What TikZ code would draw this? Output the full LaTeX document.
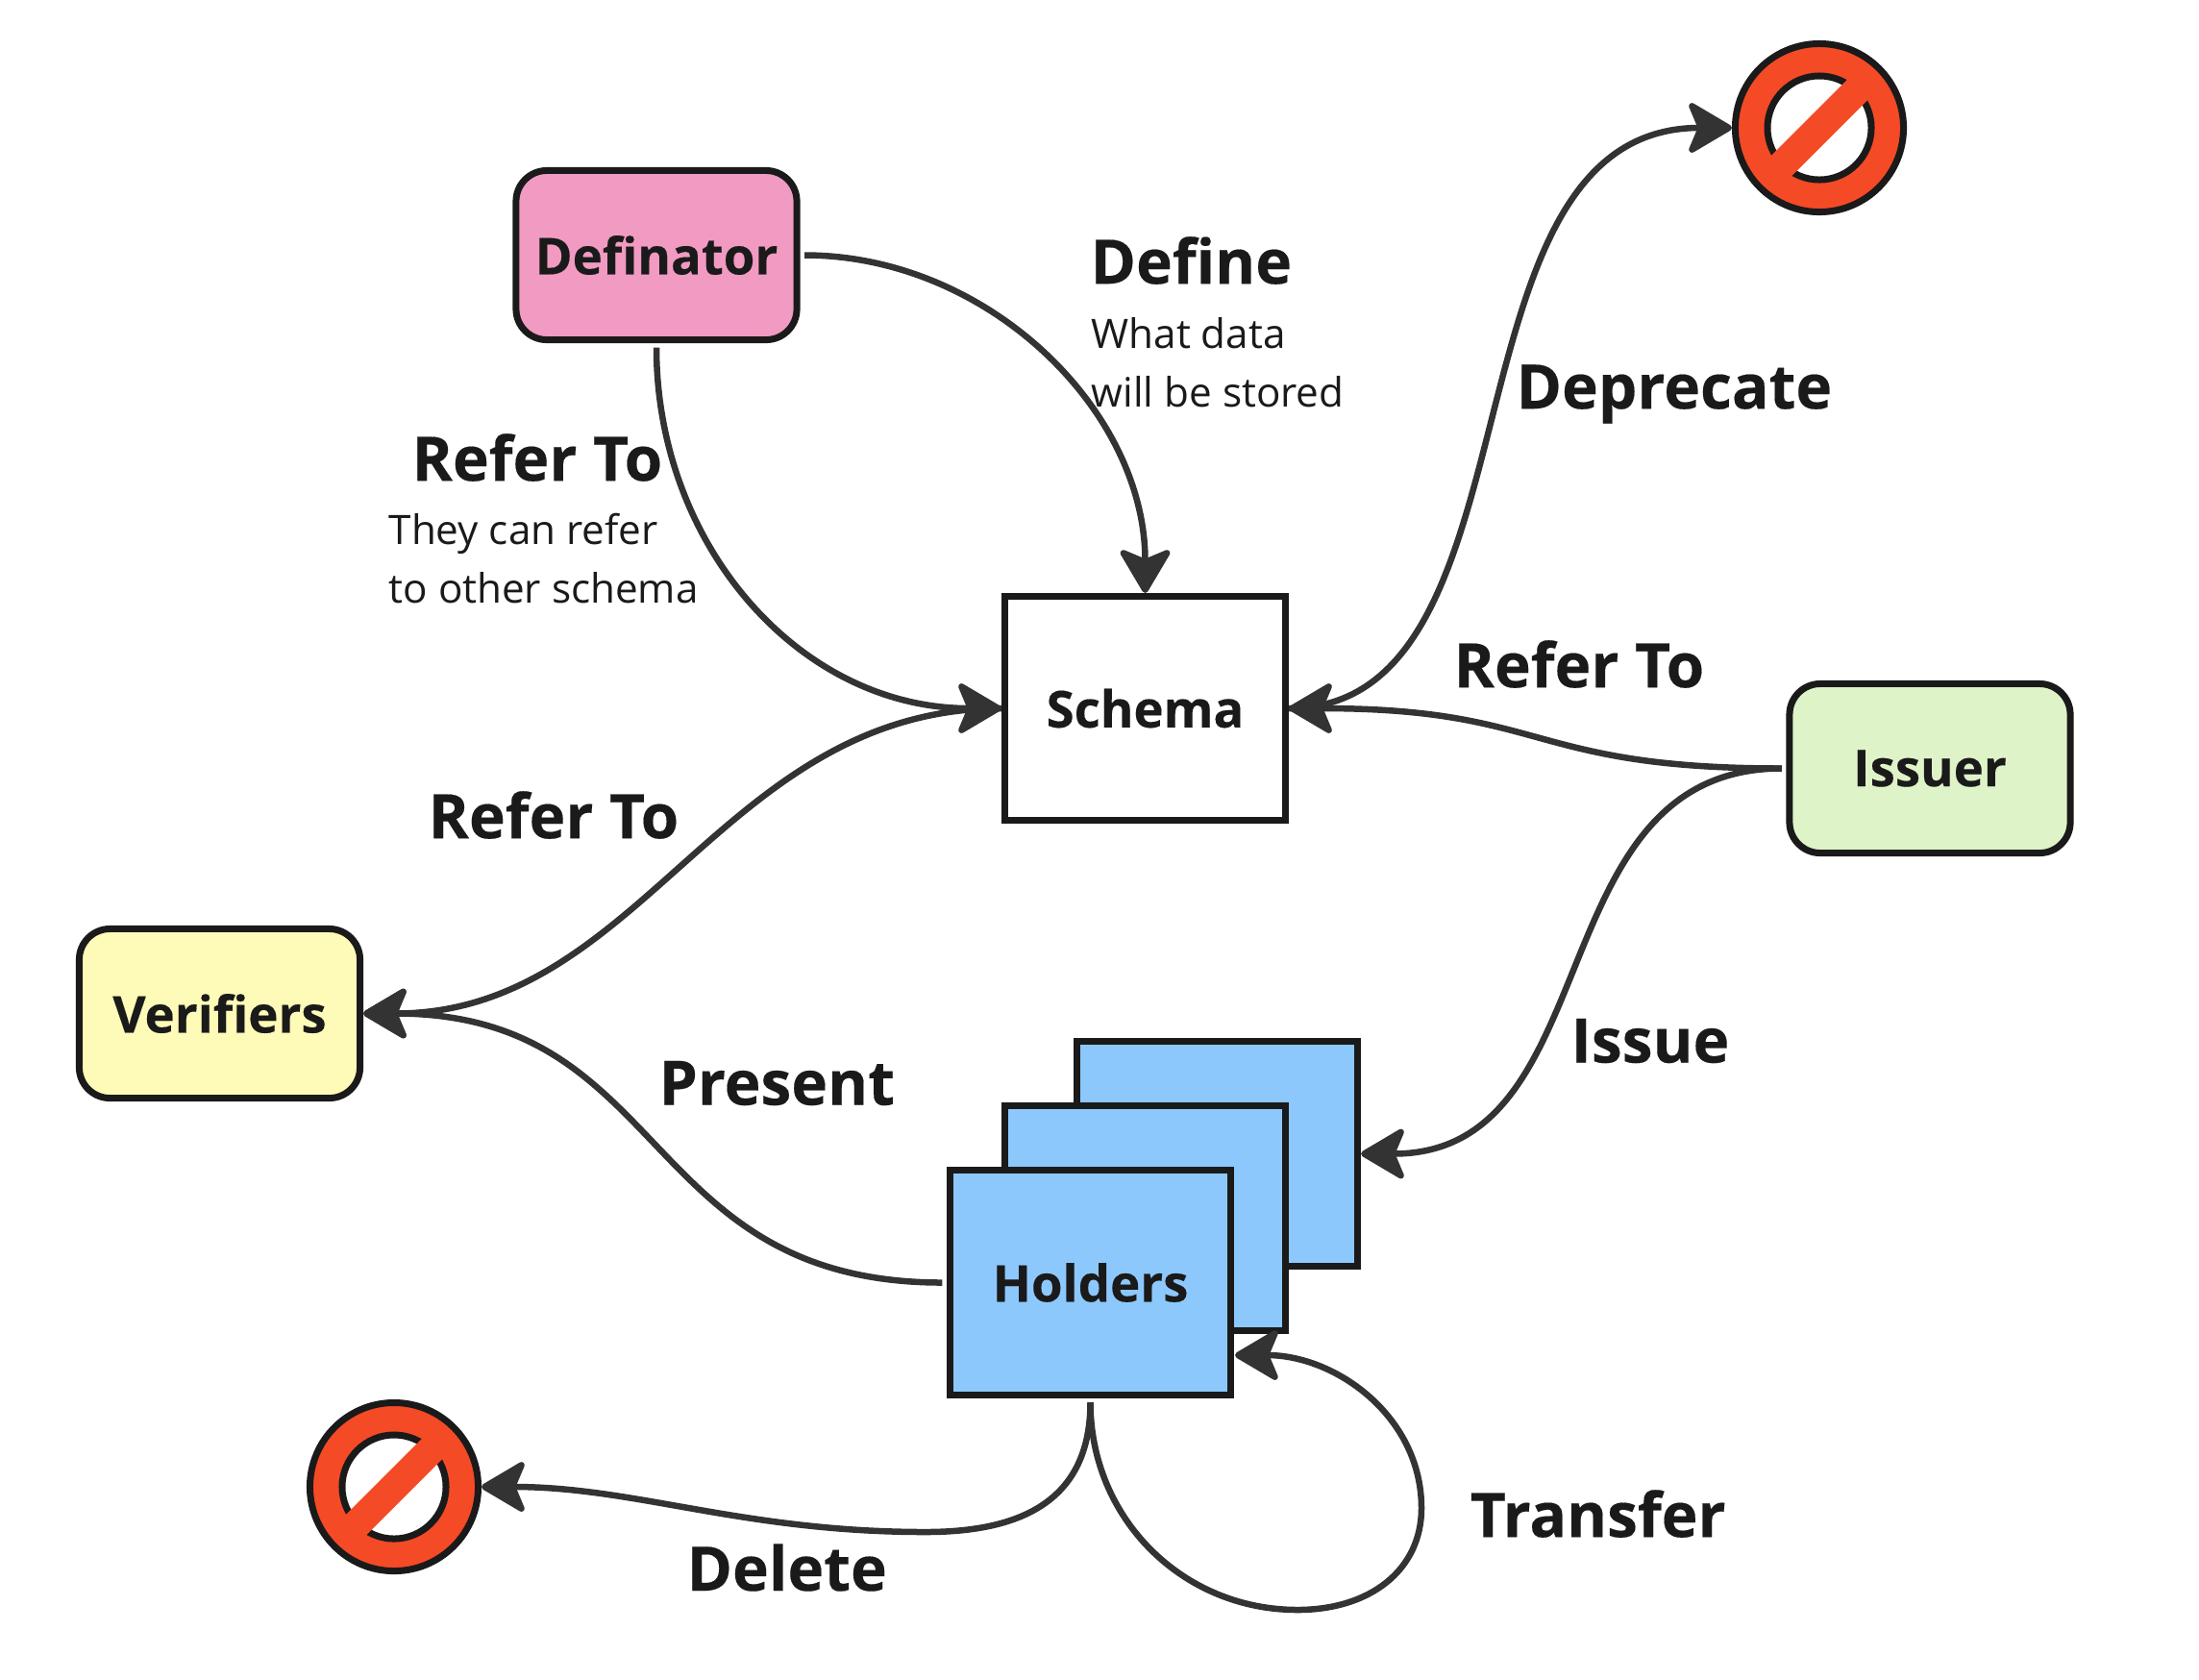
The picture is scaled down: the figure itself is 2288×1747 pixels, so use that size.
\documentclass[tikz,border=0pt]{standalone}
\usepackage{fontspec}
\setmainfont{Open Sans}[BoldFeatures={FakeBold=0.25}]
\usetikzlibrary{arrows.meta}
\definecolor{ink}{HTML}{1A1A1A}
\definecolor{wire}{HTML}{333333}
\definecolor{rose}{HTML}{F19AC2}
\definecolor{lime}{HTML}{DFF3C8}
\definecolor{butter}{HTML}{FEFAB8}
\definecolor{sky}{HTML}{8DC8FC}
\definecolor{stopred}{HTML}{F54A26}
\begin{document}
\begin{tikzpicture}[x=.01cm,y=-.01cm,
    box/.style={draw=ink,line width=.07cm,minimum width=2.92cm,minimum height=2.33cm,
      font=\fontsize{15}{17}\selectfont\bfseries,text=ink},
    actor/.style={box,rounded corners=.32cm,minimum height=1.76cm},
    big/.style={anchor=west,inner sep=0pt,text=ink,font=\fontsize{18.2}{22}\selectfont\bfseries},
    small/.style={anchor=west,inner sep=0pt,align=left,text=ink,font=\fontsize{12}{17.3}\selectfont},
    wired/.style={draw=wire,line width=.065cm,line cap=butt,shorten <=.045cm,
      -{Stealth[length=14.5pt,width=17pt,inset=3.5pt,round]}}]
  \useasboundingbox (0,0) rectangle (2288,1747);

  \node[actor,fill=rose] (definator) at (683,265.5) {Definator};
  \node[box,fill=white] (schema) at (1191.5,737) {Schema};
  \node[actor,fill=lime] (issuer) at (2008,799.5) {Issuer};
  \node[actor,fill=butter] (verifiers) at (228.5,1054.5) {Verifiers};

  \node[box,fill=sky] (holders3) at (1266.5,1200.5) {};
  \node[box,fill=sky] (holders2) at (1191.5,1267.5) {};
  \node[box,fill=sky] (holders) at (1134.5,1334.5) {Holders};
  \coordinate (holdersin) at (1285,1410);
  \coordinate (deletebend) at (963,1594);
  \coordinate (loopbottom) at (1350,1675);
  \coordinate (loopside) at (1479,1569);

  % the two stop signs
  \foreach \name/\x/\y in {deprecated/1893/133,deleted/410/1547}{
    \node[circle,draw=ink,fill=stopred,line width=.07cm,minimum size=1.75cm,inner sep=0pt,
      outer sep=.035cm] (\name) at (\x,\y) {};
    \node[circle,draw=ink,fill=white,line width=.07cm,minimum size=1.08cm,inner sep=0pt]
      at (\name) {};
    \draw[stopred,line width=.3cm] (\x-50,\y+50) -- (\x+50,\y-50);
  }

  \draw[wired] (definator.east) .. controls +(195,0) and +(0,-190) .. (schema.north);
  \draw[wired] (definator.south) .. controls +(0,210) and +(-210,0) .. (schema.west);
  \draw[wired,shorten <=0pt] (schema.west) .. controls +(-290,0) and +(290,0) .. (verifiers.east);
  \draw[wired] (issuer.west) .. controls +(-270,0) and +(270,0) .. (schema.east);
  \draw[wired,shorten <=0pt] (schema.east) .. controls +(270,0) and +(-310,0) .. (deprecated.west);
  \draw[wired] (issuer.west) .. controls +(-260,0) and +(260,0) .. (holders3.east);
  \draw[wired] (holders.west) .. controls +(-320,0) and +(320,0) .. (verifiers.east);
  \draw[wired] (holders.south) .. controls +(0,110) and +(95,0) .. (deletebend)
    .. controls +(-190,0) and +(160,0) .. (deleted.east);
  \draw[wired] (holders.south) .. controls +(0,125) and +(-120,0) .. (loopbottom)
    .. controls +(75,0) and +(0,65) .. (loopside)
    .. controls +(0,-95) and +(105,0) .. (holdersin);

  \node[big] (definelabel) at (1134,271) {Define};
  \node[small] (definenote) at (1135,377) {What data\\will be stored};
  \node[big] (deprecatelabel) at (1577,410) {Deprecate};
  \node[big] (referlabel) at (428,476) {Refer To};
  \node[small] (refernote) at (404,581) {They can refer\\to other schema};
  \node[big] (issuerrefer) at (1512,691) {Refer To};
  \node[big] (verifierrefer) at (445,848) {Refer To};
  \node[big] (issuelabel) at (1634,1083) {Issue};
  \node[big] (presentlabel) at (685,1127) {Present};
  \node[big] (transferlabel) at (1529,1575) {Transfer};
  \node[big] (deletelabel) at (714,1631) {Delete};
\end{tikzpicture}
\end{document}
